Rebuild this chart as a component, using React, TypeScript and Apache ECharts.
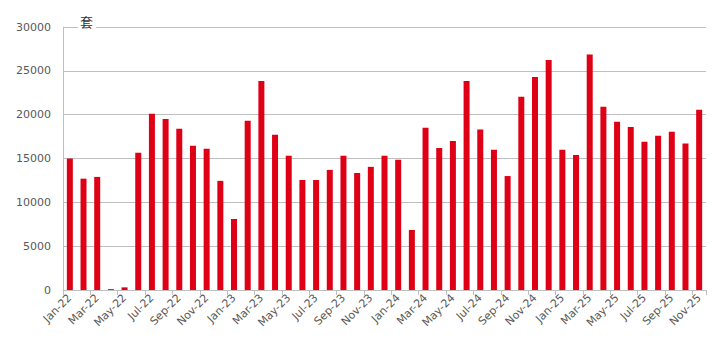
import React, { useEffect, useRef } from "react";
import * as echarts from "echarts";

const categories = [
  "Jan-22","Feb-22","Mar-22","Apr-22","May-22","Jun-22","Jul-22","Aug-22","Sep-22","Oct-22","Nov-22","Dec-22",
  "Jan-23","Feb-23","Mar-23","Apr-23","May-23","Jun-23","Jul-23","Aug-23","Sep-23","Oct-23","Nov-23","Dec-23",
  "Jan-24","Feb-24","Mar-24","Apr-24","May-24","Jun-24","Jul-24","Aug-24","Sep-24","Oct-24","Nov-24","Dec-24",
  "Jan-25","Feb-25","Mar-25","Apr-25","May-25","Jun-25","Jul-25","Aug-25","Sep-25","Oct-25","Nov-25",
];

const values = [
  15000, 12700, 12900, 100, 300, 15650, 20100, 19500, 18400, 16450, 16100, 12450,
  8100, 19300, 23850, 17700, 15300, 12550, 12550, 13700, 15300, 13350, 14050, 15300,
  14850, 6850, 18500, 16200, 17000, 23850, 18300, 16000, 13000, 22050, 24300, 26250,
  16000, 15400, 26850, 20900, 19200, 18600, 16900, 17600, 18050, 16700, 20550,
];

const unitLabel = "套";

export default function App() {
  const ref = useRef<HTMLDivElement>(null);
  useEffect(() => {
    if (!ref.current) return;
    const chart = echarts.init(ref.current, undefined, { renderer: "svg" });
    chart.setOption({
      animation: false,
      backgroundColor: "#ffffff",
      grid: { left: 63, right: 12, top: 27, bottom: 68 },
      graphic: [
        {
          type: "rect",
          left: 78,
          top: 14,
          shape: { width: 18, height: 16 },
          style: { fill: "#ffffff" },
          z: 10,
        },
        {
          type: "text",
          left: 80,
          top: 15,
          z: 11,
          style: { text: unitLabel, fontSize: 13, fill: "#333", fontFamily: "Noto Sans CJK SC" },
        },
      ],
      xAxis: {
        type: "category",
        data: categories,
        axisLine: { lineStyle: { color: "#bfbfbf" } },
        axisTick: { show: true, interval: 1, length: 5, lineStyle: { color: "#bfbfbf" } },
        axisLabel: {
          interval: 1,
          rotate: 45,
          fontSize: 11,
          color: "#595959",
          fontFamily: "DejaVu Sans",
          margin: 6,
        },
      },
      yAxis: {
        type: "value",
        min: 0,
        max: 30000,
        interval: 5000,
        axisLine: { show: true, lineStyle: { color: "#bfbfbf" } },
        axisTick: { show: false },
        splitLine: { lineStyle: { color: "#bfbfbf" } },
        axisLabel: {
          fontSize: 11,
          color: "#595959",
          fontFamily: "DejaVu Sans",
          margin: 12,
          formatter: (v: number) => String(v),
        },
      },
      series: [
        {
          type: "bar",
          data: values,
          barWidth: 6,
          itemStyle: { color: "#df0015" },
        },
      ],
    });
    return () => chart.dispose();
  }, []);
  return <div ref={ref} style={{ width: 718, height: 358, position: "absolute", left: 0, top: 0 }} />;
}
